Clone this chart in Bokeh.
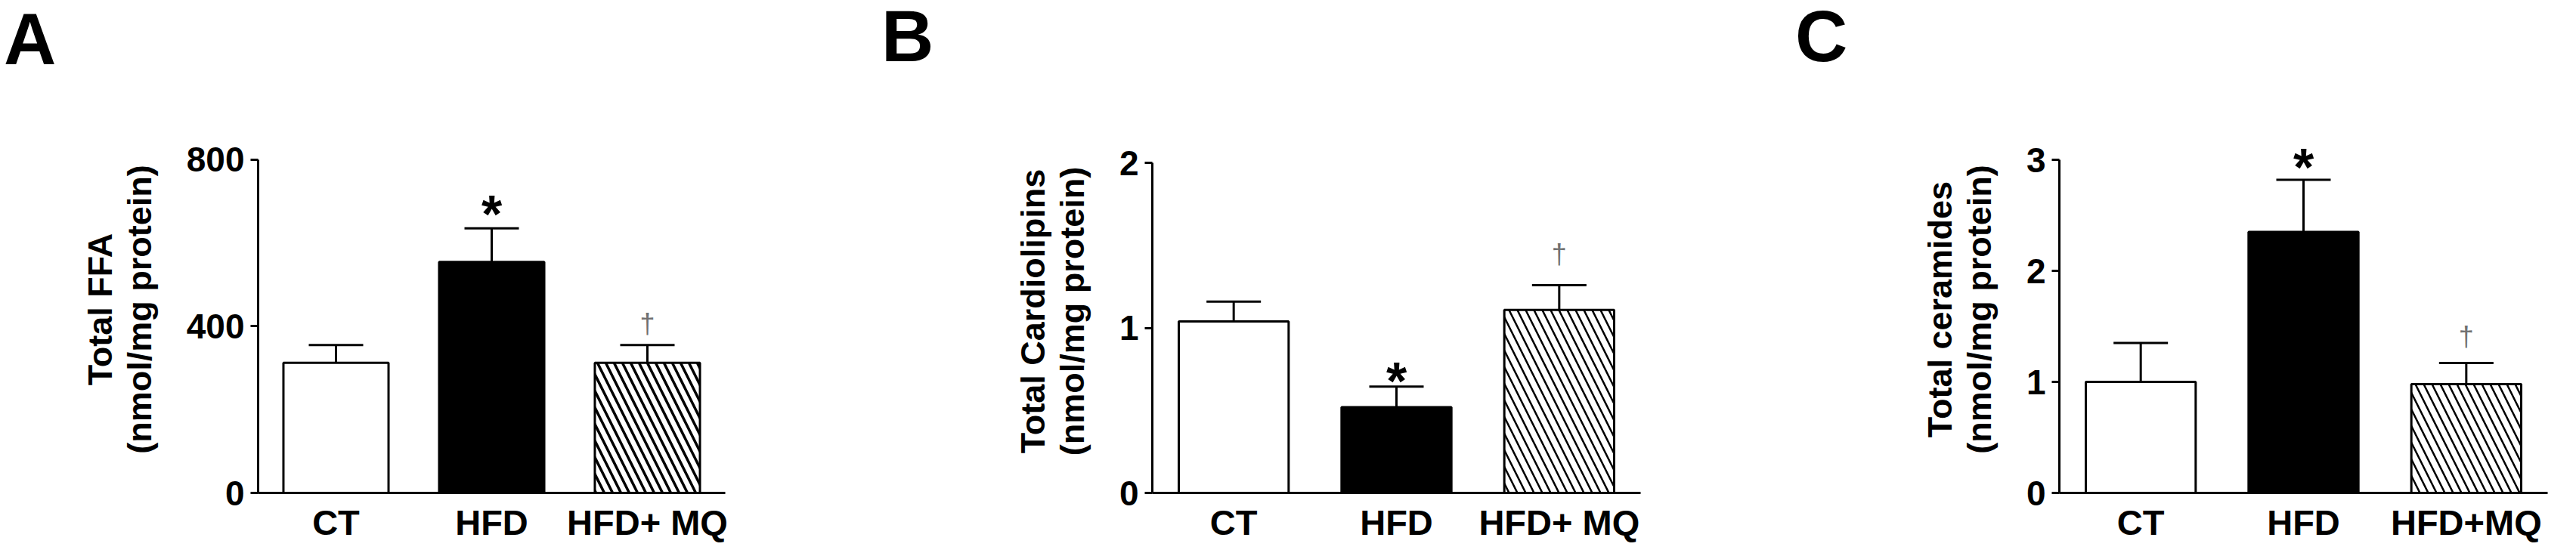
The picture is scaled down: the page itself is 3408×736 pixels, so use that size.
from bokeh.plotting import figure
from bokeh.models import FactorRange, Range1d, ColumnDataSource, Whisker, TeeHead, Div
from bokeh.layouts import row, column
from bokeh.embed import file_html
from bokeh.resources import INLINE
from bokeh.core.properties import value

# ---------------- data ----------------
categories_ab = ["CT", "HFD", "HFD+ MQ"]
categories_c = ["CT", "HFD", "HFD+MQ"]

ffa_mean = [312, 554, 312]
ffa_sem = [43, 81, 43]

cardiolipin_mean = [1.04, 0.52, 1.11]
cardiolipin_sem = [0.12, 0.125, 0.15]

ceramide_mean = [1.00, 2.35, 0.98]
ceramide_sem = [0.35, 0.47, 0.19]

star_marks = ["", "*", ""]
dagger_marks = ["", "", "\u2020"]

ffa_ticks = [0, 400, 800]
cardiolipin_ticks = [0, 1, 2]
ceramide_ticks = [0, 1, 2, 3]

FONT = "Liberation Sans"
HEAD = 100  # height of the letter strip above each chart


def panel(letter, cats, mean, sem, ticks, ylabel, W, left, right, top_page, zero_page,
          letter_pos, star_off, dagger_off, hatch_w):
    H = 720 - HEAD
    top_px = top_page - 8 - HEAD
    zero_px = zero_page - 8 - HEAD
    top_val = ticks[-1]
    pad_px = 45
    span = zero_px - top_px
    y_end = top_val * (1 + pad_px / span)
    p = figure(width=W, height=H, x_range=FactorRange(factors=cats),
               y_range=Range1d(0, y_end), output_backend="svg", toolbar_location=None)
    p.min_border_left = left
    p.min_border_right = W - right
    p.min_border_top = top_px - pad_px
    p.min_border_bottom = H - zero_px
    p.outline_line_color = None
    p.xgrid.grid_line_color = None
    p.ygrid.grid_line_color = None
    p.background_fill_color = "white"

    upper = [m + s for m, s in zip(mean, sem)]
    fills = ["white", "black", "white"]
    hatches = [" ", " ", "\\"]
    src = ColumnDataSource(dict(cat=cats, mean=mean, upper=upper, fill=fills, hatch=hatches))
    p.vbar(x="cat", top="mean", width=0.675, source=src, fill_color="fill",
           line_color="black", line_width=3, hatch_pattern="hatch", hatch_color="black",
           hatch_weight=hatch_w, hatch_scale=22)
    w = Whisker(source=src, base="cat", lower="mean", upper="upper", dimension="height",
                line_color="black", line_width=3,
                upper_head=TeeHead(size=72, line_color="black", line_width=3), lower_head=None)
    p.add_layout(w)

    # significance marks
    sx = [c for c, m in zip(cats, star_marks) if m]
    sy = [u for u, m in zip(upper, star_marks) if m]
    p.text(x=sx, y=sy, text=[m for m in star_marks if m], text_align="center",
           text_baseline="alphabetic", y_offset=-star_off, text_font=value(FONT),
           text_font_style="bold", text_font_size="70px", text_color="black")
    dx = [c for c, m in zip(cats, dagger_marks) if m]
    dy = [u for u, m in zip(upper, dagger_marks) if m]
    p.text(x=dx, y=dy, text=[m for m in dagger_marks if m], text_align="center",
           text_baseline="middle", y_offset=-dagger_off, text_font=value(FONT),
           text_font_size="36px", text_color="#707070")

    # axes
    xa = p.xaxis[0]
    xa.axis_line_width = 3
    xa.axis_line_color = "black"
    xa.major_tick_line_color = None
    xa.major_tick_out = 0
    xa.major_tick_in = 0
    xa.minor_tick_line_color = None
    xa.major_label_standoff = 12
    xa.major_label_text_font = FONT
    xa.major_label_text_font_style = "bold"
    xa.major_label_text_font_size = "47px"
    xa.major_label_text_color = "black"

    ya = p.yaxis[0]
    ya.ticker = ticks
    ya.bounds = (0, top_val)
    ya.axis_line_width = 3
    ya.axis_line_color = "black"
    ya.major_tick_line_width = 3
    ya.major_tick_line_color = "black"
    ya.major_tick_out = 10
    ya.major_tick_in = 0
    ya.minor_tick_line_color = None
    ya.major_label_standoff = 8
    ya.major_label_text_font = FONT
    ya.major_label_text_font_style = "bold"
    ya.major_label_text_font_size = "46px"
    ya.major_label_text_color = "black"
    ya.axis_label = ylabel
    ya.axis_label_standoff = 34
    ya.axis_label_text_font = FONT
    ya.axis_label_text_font_style = "bold"
    ya.axis_label_text_font_size = "45px"
    ya.axis_label_text_line_height = 1.02
    ya.axis_label_text_color = "black"

    lx, ltop = letter_pos
    head = Div(text=letter, width=W, height=HEAD, margin=(0, 0, 0, 0),
               styles={"font-family": "'Liberation Sans', sans-serif", "font-weight": "bold",
                       "font-size": "96px", "line-height": "96px",
                       "padding-left": f"{lx}px", "padding-top": f"{ltop}px",
                       "color": "black", "box-sizing": "border-box", "overflow": "visible"})
    return column(head, p, spacing=0)


pa = panel("A", categories_ab, ffa_mean, ffa_sem, ffa_ticks,
           "Total FFA\n(nmol/mg protein)", 1142, 341, 959, 219, 664, (5, 4), 18, 28, 3.5)
pb = panel("B", categories_ab, cardiolipin_mean, cardiolipin_sem, cardiolipin_ticks,
           "Total Cardiolipins\n(nmol/mg protein)", 1150, 382, 1028, 224, 667, (24, 0), 7, 41, 2.5)
pc = panel("C", categories_c, ceramide_mean, ceramide_sem, ceramide_ticks,
           "Total ceramides\n(nmol/mg protein)", 1100, 432, 1078, 219, 660, (83, 0), 16, 35, 2.5)

layout = row(pa, pb, pc, spacing=0)
open("out.html", "w").write(file_html(layout, INLINE))
